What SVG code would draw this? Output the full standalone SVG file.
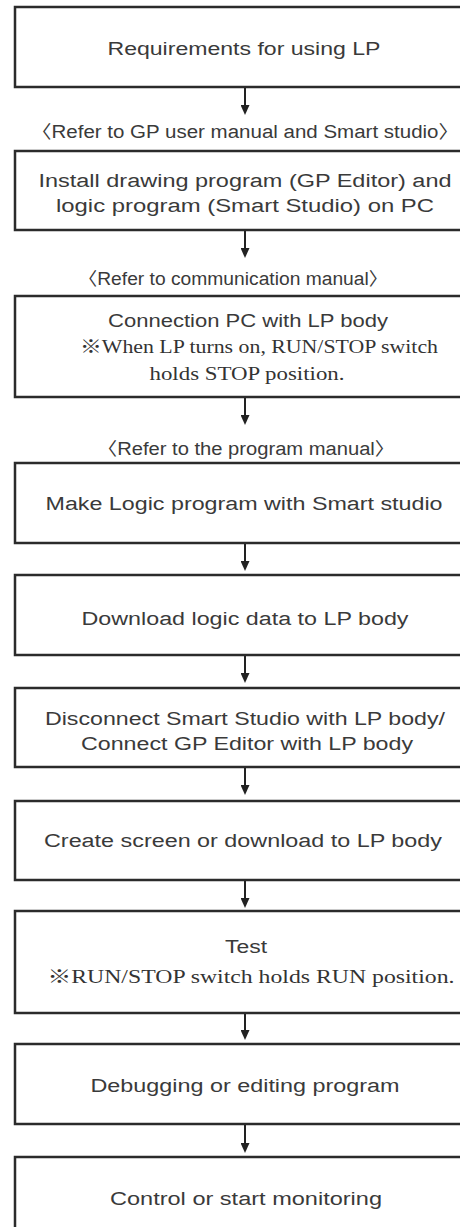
<svg xmlns="http://www.w3.org/2000/svg" width="460" height="1227" viewBox="0 0 460 1227">
<style>
.box{fill:#fff;stroke:#2b2b2b;stroke-width:2.5}
.t{font-family:"Liberation Sans","Noto Sans CJK KR",Arial,sans-serif;font-size:18px;fill:#3a3a3a;text-anchor:middle}
.s{font-family:"Liberation Serif","Noto Serif CJK KR","Noto Sans CJK KR",serif;font-size:18.5px;fill:#333;text-anchor:middle}
.c{stroke:#222;stroke-width:2;fill:none}
</style>
<defs>
<marker id="ah" markerUnits="userSpaceOnUse" markerWidth="10" markerHeight="9" refX="4" refY="4.5" orient="auto">
<path d="M0,0 L10,4.5 L0,9 z" fill="#222"/>
</marker>
</defs>
<rect width="460" height="1227" fill="#fff"/>
<g id="connectors">
<line class="c" x1="245" y1="88" x2="245" y2="109" marker-end="url(#ah)"/>
<line class="c" x1="245" y1="231" x2="245" y2="252" marker-end="url(#ah)"/>
<line class="c" x1="245" y1="398" x2="245" y2="419" marker-end="url(#ah)"/>
<line class="c" x1="245" y1="544" x2="245" y2="565" marker-end="url(#ah)"/>
<line class="c" x1="245" y1="656" x2="245" y2="677" marker-end="url(#ah)"/>
<line class="c" x1="245" y1="768" x2="245" y2="789" marker-end="url(#ah)"/>
<line class="c" x1="245" y1="881" x2="245" y2="902" marker-end="url(#ah)"/>
<line class="c" x1="245" y1="1014" x2="245" y2="1034" marker-end="url(#ah)"/>
<line class="c" x1="245" y1="1125" x2="245" y2="1147" marker-end="url(#ah)"/>
</g>
<g id="labels">
<text class="t" x="245" y="138" textLength="428" lengthAdjust="spacingAndGlyphs">〈Refer to GP user manual and Smart studio〉</text>
<text class="t" x="233" y="285" textLength="310" lengthAdjust="spacingAndGlyphs">〈Refer to communication manual〉</text>
<text class="t" x="246" y="455" textLength="298" lengthAdjust="spacingAndGlyphs">〈Refer to the program manual〉</text>
</g>
<g id="n1">
<rect class="box" x="15" y="7" width="460" height="80"/>
<text class="t" x="244" y="55" textLength="273" lengthAdjust="spacingAndGlyphs">Requirements for using LP</text>
</g>
<g id="n2">
<rect class="box" x="15" y="151" width="460" height="79"/>
<text class="t" x="245" y="187" textLength="413" lengthAdjust="spacingAndGlyphs">Install drawing program (GP Editor) and</text>
<text class="t" x="245" y="212" textLength="378" lengthAdjust="spacingAndGlyphs">logic program (Smart Studio) on PC</text>
</g>
<g id="n3">
<rect class="box" x="15" y="296" width="460" height="101"/>
<text class="t" x="248" y="327" textLength="280" lengthAdjust="spacingAndGlyphs">Connection PC with LP body</text>
<text class="s" x="259" y="353" textLength="358" lengthAdjust="spacingAndGlyphs">※When LP turns on, RUN/STOP switch</text>
<text class="s" x="247" y="380" textLength="195" lengthAdjust="spacingAndGlyphs">holds STOP position.</text>
</g>
<g id="n4">
<rect class="box" x="15" y="463" width="460" height="80"/>
<text class="t" x="244" y="510" textLength="397" lengthAdjust="spacingAndGlyphs">Make Logic program with Smart studio</text>
</g>
<g id="n5">
<rect class="box" x="15" y="575" width="460" height="80"/>
<text class="t" x="245" y="625" textLength="327" lengthAdjust="spacingAndGlyphs">Download logic data to LP body</text>
</g>
<g id="n6">
<rect class="box" x="15" y="688" width="460" height="79"/>
<text class="t" x="245" y="725" textLength="400" lengthAdjust="spacingAndGlyphs">Disconnect Smart Studio with LP body/</text>
<text class="t" x="247" y="750" textLength="332" lengthAdjust="spacingAndGlyphs">Connect GP Editor with LP body</text>
</g>
<g id="n7">
<rect class="box" x="15" y="801" width="460" height="79"/>
<text class="t" x="243" y="847" textLength="398" lengthAdjust="spacingAndGlyphs">Create screen or download to LP body</text>
</g>
<g id="n8">
<rect class="box" x="15" y="911" width="460" height="102"/>
<text class="t" x="246" y="953" textLength="42" lengthAdjust="spacingAndGlyphs">Test</text>
<text class="s" x="251" y="983" textLength="407" lengthAdjust="spacingAndGlyphs">※RUN/STOP switch holds RUN position.</text>
</g>
<g id="n9">
<rect class="box" x="15" y="1044" width="460" height="80"/>
<text class="t" x="245" y="1092" textLength="309" lengthAdjust="spacingAndGlyphs">Debugging or editing program</text>
</g>
<g id="n10">
<rect class="box" x="15" y="1157" width="460" height="80"/>
<text class="t" x="246" y="1205" textLength="272" lengthAdjust="spacingAndGlyphs">Control or start monitoring</text>
</g>
</svg>
